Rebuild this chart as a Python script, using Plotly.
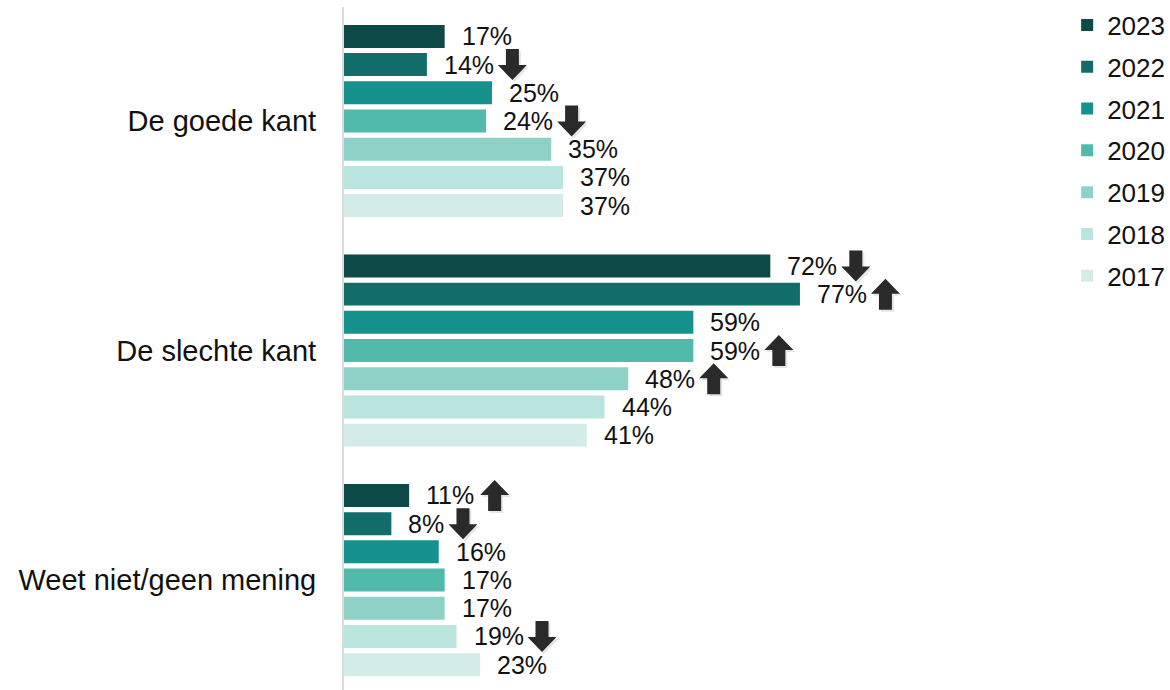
import plotly.graph_objects as go

categories = ["De goede kant", "De slechte kant", "Weet niet/geen mening"]
years = ["2023", "2022", "2021", "2020", "2019", "2018", "2017"]
values_2023 = [17, 72, 11]
values_2022 = [14, 77, 8]
values_2021 = [25, 59, 16]
values_2020 = [24, 59, 17]
values_2019 = [35, 48, 17]
values_2018 = [37, 44, 19]
values_2017 = [37, 41, 23]
# significance arrows: "up", "down" or "" per category
arrows_2023 = ["", "down", "up"]
arrows_2022 = ["down", "up", "down"]
arrows_2021 = ["", "", ""]
arrows_2020 = ["down", "up", ""]
arrows_2019 = ["", "up", ""]
arrows_2018 = ["", "", "down"]
arrows_2017 = ["", "", ""]

colors = ["#0c4947", "#116c6a", "#16918e", "#52baaa", "#8ed2c7", "#bae4de", "#d3ece8"]

series = [values_2023, values_2022, values_2021, values_2020, values_2019, values_2018, values_2017]
arrows = [arrows_2023, arrows_2022, arrows_2021, arrows_2020, arrows_2019, arrows_2018, arrows_2017]

FONT = "Liberation Sans, Arial, sans-serif"
LABEL_SIZE = 25
LABEL_SHIFT = 17
bargap = 0.14
bargroupgap = 0.185

# Arial advance widths (em) for label characters
CHAR_W = {**{d: 0.556 for d in "0123456789"}, "%": 0.889}


def text_width(s, size):
    return sum(CHAR_W.get(c, 0.556) for c in s) * size


def arrow_points(direction, x0, dx=0, dy=0):
    w, sw, hh, sh = 29, 13, 15, 16
    top = (hh + sh) / 2
    mid = top - hh
    bot = -top
    sx0 = x0 + (w - sw) / 2
    sx1 = sx0 + sw
    pts = [(x0, mid), (x0 + w / 2, top), (x0 + w, mid), (sx1, mid), (sx1, bot), (sx0, bot), (sx0, mid)]
    if direction == "down":
        pts = [(px, -py) for px, py in pts]
    pts = [(px + dx, py + dy) for px, py in pts]
    return "M " + " L ".join(f"{px:.1f},{py:.1f}" for px, py in pts) + " Z"


fig = go.Figure()
for i, (yr, vals, col) in enumerate(zip(years, series, colors)):
    fig.add_trace(go.Bar(
        x=vals, y=categories, orientation="h", name=yr,
        marker=dict(color=col, line=dict(width=0)),
        legendgroup=yr, hoverinfo="skip",
    ))

n = len(years)
slot = (1 - bargap) / n
annotations = []
shapes = []
for i, (vals, arr) in enumerate(zip(series, arrows)):
    off = -(1 - bargap) / 2 + slot * (i + 0.5)
    for j, v in enumerate(vals):
        label = f"{v}%"
        yc = j + off
        annotations.append(dict(
            x=v, y=yc, xref="x", yref="y", text=label, showarrow=False,
            xanchor="left", yanchor="middle", xshift=LABEL_SHIFT - 2,
            font=dict(family=FONT, size=LABEL_SIZE, color="#111111"),
        ))
        if arr[j]:
            x0 = LABEL_SHIFT + text_width(label, LABEL_SIZE) + 4
            for dx, dy, colr in [(2, -2, "rgba(0,0,0,0.10)"), (0, 0, "#2a2a2a")]:
                shapes.append(dict(
                    type="path", xref="x", yref="y",
                    xsizemode="pixel", ysizemode="pixel",
                    xanchor=v, yanchor=yc,
                    path=arrow_points(arr[j], x0, dx, dy),
                    fillcolor=colr, line=dict(width=0), layer="above",
                ))

fig.update_layout(
    width=1170, height=690,
    margin=dict(l=344, r=0, t=7, b=0, autoexpand=False),
    paper_bgcolor="white", plot_bgcolor="white",
    barmode="group", bargap=bargap, bargroupgap=bargroupgap,
    showlegend=True,
    legend=dict(
        x=0.8755, y=1.008, xanchor="left", yanchor="top",
        font=dict(family=FONT, size=26, color="#111111"),
        tracegroupgap=5, traceorder="grouped", bgcolor="rgba(0,0,0,0)",
    ),
    annotations=annotations,
    shapes=shapes,
    xaxis=dict(range=[0, 139.5], showgrid=False, zeroline=False, showticklabels=False, showline=False),
    yaxis=dict(
        type="category", range=[2.479, -0.4967], showgrid=False, zeroline=False,
        showline=True, linecolor="#dcdcdc", linewidth=2,
        ticks="", ticklabelstandoff=20, automargin=False,
        tickfont=dict(family=FONT, size=29, color="#111111"),
    ),
)

fig.write_html("out.html", config={"displayModeBar": False},
               post_script="document.body.style.margin='0';")
